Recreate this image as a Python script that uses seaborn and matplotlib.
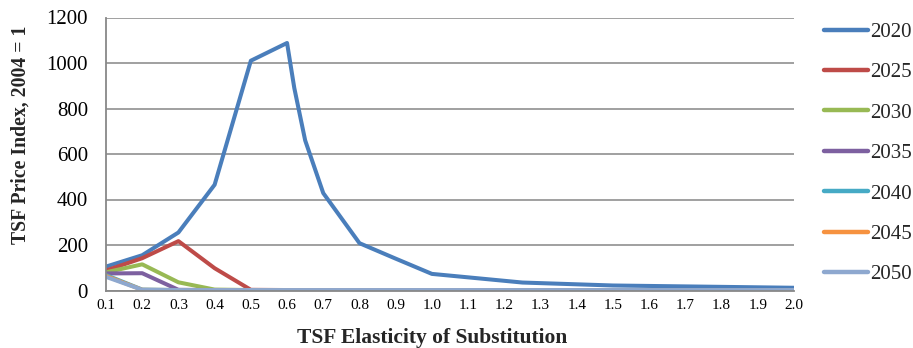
import numpy as np
import pandas as pd
import matplotlib
matplotlib.use("Agg")
import matplotlib.pyplot as plt
import seaborn as sns

elasticity = [0.1, 0.2, 0.3, 0.4, 0.5, 0.6, 0.62, 0.65, 0.7, 0.8, 0.9, 1.0, 1.25, 1.5, 2.0]
y2020 = [105, 155, 255, 465, 1010, 1088, 890, 660, 428, 208, 140, 73, 35, 22, 12]
y2025 = [88, 142, 217, 98, 3, 2, 2, 2, 2, 2, 2, 2, 2, 2, 2]
y2030 = [80, 115, 36, 4, 2, 2, 2, 2, 2, 2, 2, 2, 2, 2, 2]
y2035 = [75, 76, 3, 2, 2, 2, 2, 2, 2, 2, 2, 2, 2, 2, 2]
y2040 = [68, 4, 2, 2, 2, 2, 2, 2, 2, 2, 2, 2, 2, 2, 2]
y2045 = [64, 3, 2, 2, 2, 2, 2, 2, 2, 2, 2, 2, 2, 2, 2]
y2050 = [60, 3, 2, 2, 2, 2, 2, 2, 2, 2, 2, 2, 2, 2, 2]
years = ["2020", "2025", "2030", "2035", "2040", "2045", "2050"]
series = [y2020, y2025, y2030, y2035, y2040, y2045, y2050]
colors = ["#4A7EBB", "#BE4B48", "#98B954", "#7D60A0", "#46AAC5", "#F69240", "#8EA8CF"]
xticks = [round(0.1 * i, 1) for i in range(1, 21)]
yticks = [0, 200, 400, 600, 800, 1000, 1200]

df = pd.concat([pd.DataFrame({"x": elasticity, "y": s, "year": yr}) for yr, s in zip(years, series)])

sns.set_theme(style="white")
plt.rcParams["font.family"] = ["Liberation Serif", "DejaVu Serif"]

fig = plt.figure(figsize=(9.13, 3.48), dpi=100)
ax = fig.add_axes([106 / 913, 1 - 290.5 / 348, (794 - 106) / 913, (290.5 - 17.5) / 348])

sns.lineplot(data=df, x="x", y="y", hue="year", palette=colors, linewidth=2.9,
             ax=ax, legend=False, sort=False)

ax.set_xlim(0.1, 2.0)
ax.set_ylim(0, 1200)
ax.set_xticks(xticks)
ax.set_xticklabels([f"{v:.1f}" for v in xticks], fontsize=11, color="black")
ax.set_yticks(yticks)
ax.set_yticklabels([str(v) for v in yticks], fontsize=15, color="black")
ax.yaxis.grid(True, color="#999999", linewidth=1.3)
ax.xaxis.grid(False)
for side in ["top", "right"]:
    ax.spines[side].set_visible(False)
for side in ["left", "bottom"]:
    ax.spines[side].set_color("#888888")
    ax.spines[side].set_linewidth(1.3)
ax.tick_params(axis="x", direction="out", length=4, color="#888888", width=1, pad=2)
ax.tick_params(axis="y", direction="out", length=3, color="#888888", width=1, pad=10)
ax.set_axisbelow(True)

ax.set_xlabel("TSF Elasticity of Substitution", fontsize=15.5, fontweight="bold")
ax.set_ylabel("TSF Price Index, 2004 = 1", fontsize=14.2, fontweight="bold")
ax.xaxis.set_label_coords((432 - 106) / 688, -(328 - 290.5) / 273)
ax.yaxis.set_label_coords(-(106 - 31) / 688, (290.5 - 135) / 273)

handles = [plt.Line2D([], [], color=c, linewidth=3.2, solid_capstyle="round") for c in colors]
fig.legend(handles, years, loc="upper left", bbox_to_anchor=(816 / 913, 1 - 14 / 348),
           frameon=False, fontsize=15, handlelength=2.1, handletextpad=0.1,
           labelspacing=1.0, borderaxespad=0)

fig.savefig("out.png", dpi=100)
